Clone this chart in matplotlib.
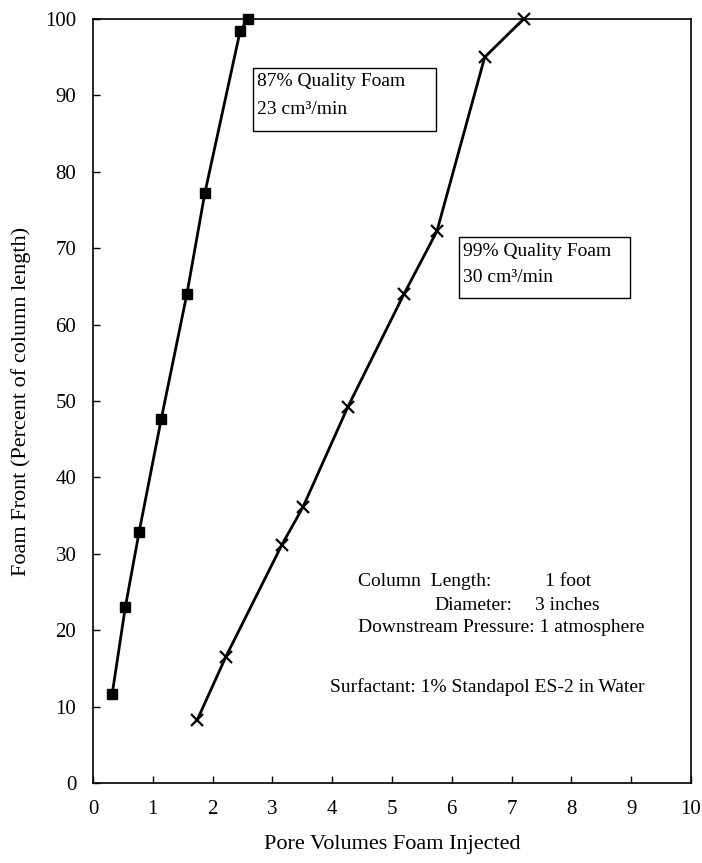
import matplotlib
matplotlib.use("Agg")
import matplotlib.pyplot as plt
from matplotlib.patches import Rectangle

plt.rcParams['font.family'] = ['Liberation Serif', 'DejaVu Serif']

# 87% quality foam, 23 cm3/min
x87 = [0.32, 0.54, 0.77, 1.14, 1.57, 1.87, 2.46, 2.59]
y87 = [11.6, 23.0, 32.8, 47.6, 64.0, 77.2, 98.4, 100.0]
# 99% quality foam, 30 cm3/min
x99 = [1.74, 2.22, 3.16, 3.51, 4.26, 5.20, 5.75, 6.55, 7.20]
y99 = [8.2, 16.5, 31.2, 36.1, 49.2, 64.0, 72.2, 95.0, 100.0]

xticks = list(range(0, 11))
yticks = list(range(0, 101, 10))

W, H = 702, 863
fig = plt.figure(figsize=(W / 100, H / 100), dpi=100)
L, R, T, B = 93, 691, 19, 783
ax = fig.add_axes([L / W, 1 - B / H, (R - L) / W, (B - T) / H])

ax.plot(x87, y87, color='black', lw=2.0, marker='s', ms=6.5, clip_on=False, zorder=3)
ax.plot(x99, y99, color='black', lw=2.0, marker='x', ms=8, mew=1.6, clip_on=False, zorder=3)

ax.set_xlim(0, 10)
ax.set_ylim(0, 100)
ax.set_xticks(xticks)
ax.set_yticks(yticks)
ax.tick_params(direction='in', length=5, width=1, labelsize=15)
ax.tick_params(axis='x', pad=12)
ax.tick_params(axis='y', pad=12)
for s in ax.spines.values():
    s.set_linewidth(1.2)

ax.set_xlabel('Pore Volumes Foam Injected', fontsize=16, labelpad=12)
ax.set_ylabel('Foam Front (Percent of column length)', fontsize=16, labelpad=10)

def fx(px):
    return (px - L) / (R - L)

def fy(py):
    return (B - py) / (B - T)

def box(x0, y0, x1, y1):
    ax.add_patch(Rectangle((fx(x0), fy(y1)), fx(x1) - fx(x0), fy(y0) - fy(y1),
                           transform=ax.transAxes, facecolor='white',
                           edgecolor='black', lw=1, zorder=4))

def txt(px, py, s, size=14):
    ax.text(fx(px), fy(py), s, transform=ax.transAxes, ha='left', va='center',
            fontsize=size, zorder=5)

box(253, 68, 436, 131)
txt(257, 82, '87% Quality Foam')
txt(257, 109, '23 cm\u00b3/min')
box(459, 237, 630, 298)
txt(463, 251, '99% Quality Foam')
txt(463, 278, '30 cm\u00b3/min')

txt(358, 581, 'Column  Length:')
txt(545, 581, '1 foot')
txt(434, 605, 'Diameter:')
txt(535, 605, '3 inches')
txt(358, 628, 'Downstream Pressure: 1 atmosphere')
txt(330, 687, 'Surfactant: 1% Standapol ES-2 in Water')

fig.savefig('out.png', dpi=100)
